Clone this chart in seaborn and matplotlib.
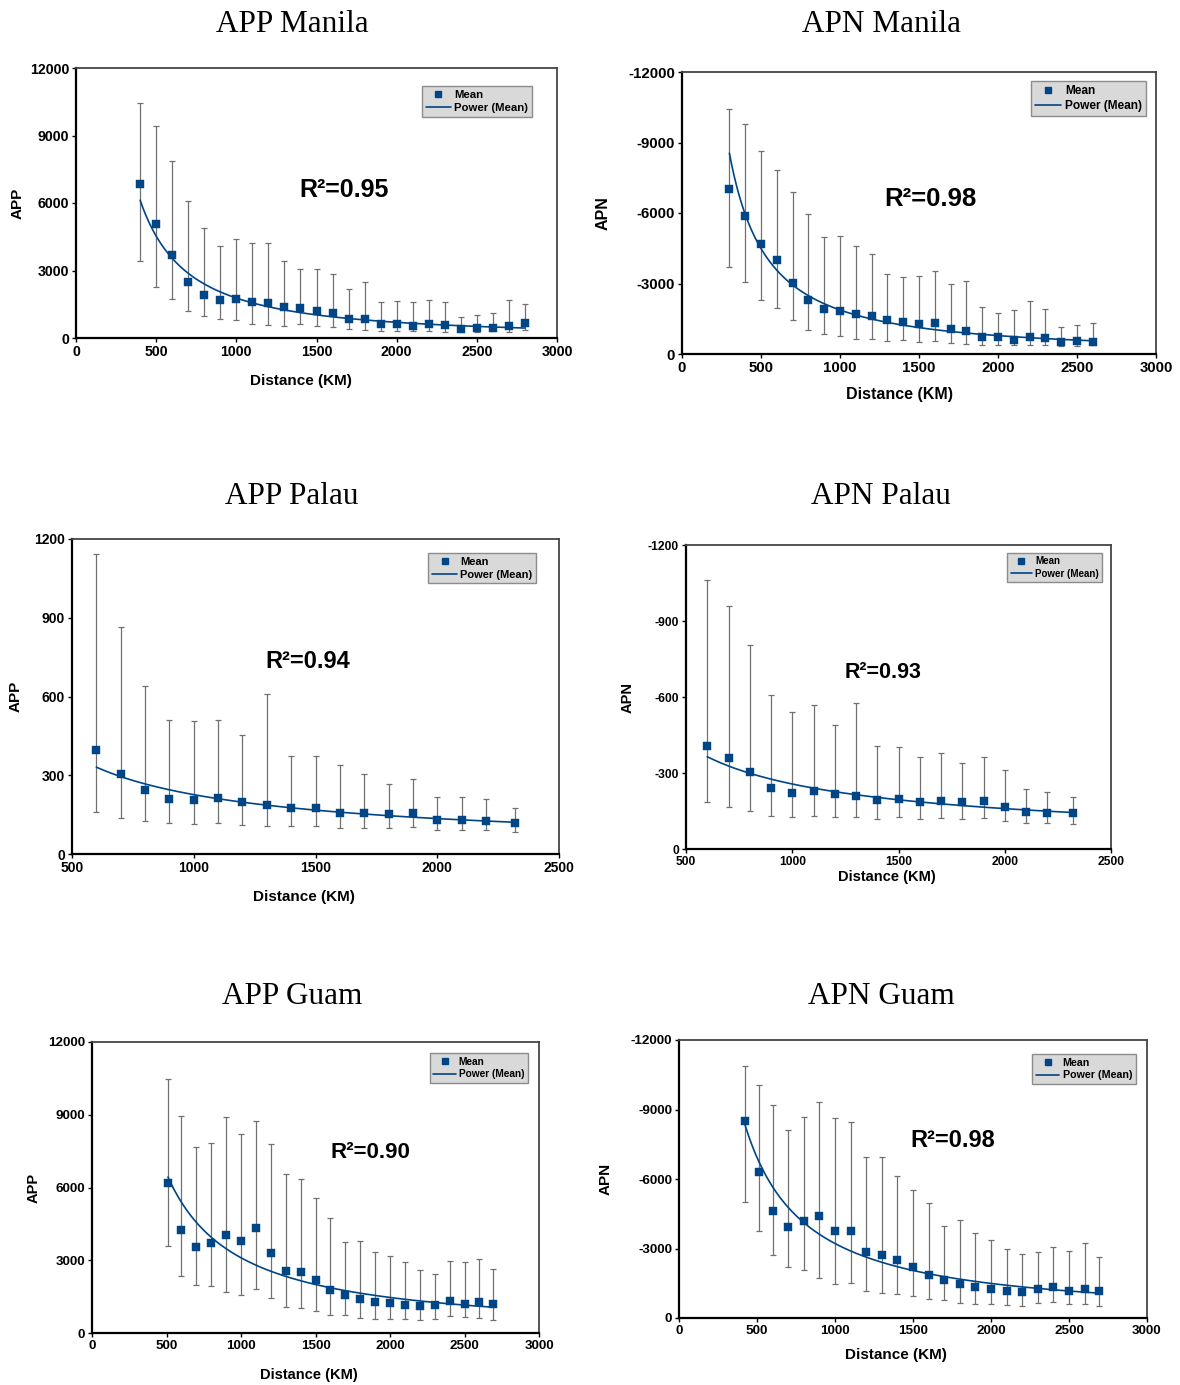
import numpy as np
import pandas as pd
import matplotlib
matplotlib.use("Agg")
import matplotlib.pyplot as plt
import seaborn as sns
from matplotlib.lines import Line2D

sns.set_theme(style="white")
plt.rcParams['font.family'] = ['Liberation Sans', 'DejaVu Sans']
plt.rcParams['text.color'] = 'black'
plt.rcParams['axes.labelcolor'] = 'black'
plt.rcParams['xtick.color'] = 'black'
plt.rcParams['ytick.color'] = 'black'

# ---------------- data ----------------
# APP Manila
app_manila_x = [400, 500, 600, 700, 800, 900, 1000, 1100, 1200, 1300, 1400, 1500, 1600,
                1700, 1800, 1900, 2000, 2100, 2200, 2300, 2400, 2500, 2600, 2700, 2800]
app_manila_mean = [6850, 5050, 3670, 2470, 1900, 1700, 1730, 1590, 1560, 1390, 1320, 1215, 1110,
                   845, 845, 610, 620, 535, 605, 565, 415, 460, 460, 535, 680]
app_manila_hi = [10440, 9420, 7880, 6100, 4900, 4070, 4400, 4220, 4210, 3440, 3070, 3070, 2845,
                 2190, 2470, 1615, 1645, 1585, 1705, 1615, 935, 1005, 1125, 1705, 1495]
app_manila_lo = [3440, 2270, 1750, 1185, 965, 845, 800, 620, 595, 550, 620, 520, 505,
                 400, 370, 325, 325, 325, 325, 280, 250, 280, 325, 250, 370]

# APN Manila
apn_manila_x = [300, 400, 500, 600, 700, 800, 900, 1000, 1100, 1200, 1300, 1400, 1500, 1600,
                1700, 1800, 1900, 2000, 2100, 2200, 2300, 2400, 2500, 2600]
apn_manila_mean = [-7030, -5890, -4670, -3980, -3040, -2315, -1920, -1830, -1705, -1635, -1465, -1380,
                   -1290, -1305, -1050, -980, -740, -725, -610, -725, -680, -510, -555, -510]
apn_manila_hi = [-10420, -9780, -8630, -7850, -6900, -5940, -4985, -5015, -4590, -4275, -3420, -3295,
                 -3340, -3520, -2980, -3125, -2015, -1745, -1890, -2270, -1930, -1135, -1250, -1320]
apn_manila_lo = [-3705, -3065, -2300, -1975, -1435, -1035, -850, -765, -640, -640, -570, -595,
                 -525, -540, -470, -410, -385, -400, -370, -370, -370, -340, -340, -370]

# APP Palau
app_palau_x = [600, 700, 800, 900, 1000, 1100, 1200, 1300, 1400, 1500, 1600, 1700, 1800,
               1900, 2000, 2100, 2200, 2320]
app_palau_mean = [397, 303, 244, 209, 204, 212, 198, 188, 175, 174, 156, 157, 151, 155, 128, 131, 127, 118]
app_palau_hi = [1142, 863, 639, 509, 507, 509, 452, 609, 373, 373, 339, 304, 268, 287, 216, 218, 208, 175]
app_palau_lo = [159, 137, 126, 117, 114, 117, 112, 108, 105, 105, 100, 100, 98, 104, 93, 93, 93, 82]

# APN Palau
apn_palau_x = [600, 700, 800, 900, 1000, 1100, 1200, 1300, 1400, 1500, 1600, 1700, 1800,
               1900, 2000, 2100, 2200, 2320]
apn_palau_mean = [-407, -361, -303, -240, -223, -230, -218, -209, -194, -197, -184, -191, -184,
                  -188, -164, -147, -143, -144]
apn_palau_hi = [-1062, -960, -804, -607, -542, -569, -488, -576, -405, -403, -363, -380, -341,
                -362, -312, -235, -226, -206]
apn_palau_lo = [-184, -164, -150, -130, -127, -130, -127, -125, -118, -125, -119, -123, -117,
                -122, -109, -104, -102, -97]

# APP Guam
app_guam_x = [510, 600, 700, 800, 900, 1000, 1100, 1200, 1300, 1400, 1500, 1600, 1700, 1800,
              1900, 2000, 2100, 2200, 2300, 2400, 2500, 2600, 2690]
app_guam_mean = [6190, 4230, 3550, 3725, 4030, 3810, 4315, 3290, 2575, 2520, 2190, 1765, 1550,
                 1385, 1290, 1235, 1165, 1095, 1135, 1300, 1190, 1260, 1205]
app_guam_hi = [10480, 8930, 7670, 7835, 8890, 8195, 8755, 7780, 6560, 6355, 5550, 4755, 3765,
               3795, 3355, 3190, 2945, 2615, 2440, 2960, 2945, 3055, 2645]
app_guam_lo = [3590, 2345, 1985, 1920, 1685, 1575, 1820, 1450, 1055, 1015, 905, 755, 725,
               615, 590, 590, 560, 520, 590, 685, 645, 615, 520]

# APN Guam
apn_guam_x = [420, 515, 600, 700, 800, 900, 1000, 1100, 1200, 1300, 1400, 1500, 1600, 1700,
              1800, 1900, 2000, 2100, 2200, 2300, 2400, 2500, 2600, 2690]
apn_guam_mean = [-8500, -6295, -4640, -3935, -4190, -4395, -3775, -3775, -2865, -2735, -2490, -2220,
                 -1845, -1640, -1470, -1355, -1255, -1180, -1140, -1270, -1340, -1180, -1255, -1180]
apn_guam_hi = [-10890, -10040, -9205, -8095, -8670, -9320, -8645, -8455, -6945, -6945, -6135, -5515,
               -4970, -3990, -4250, -3675, -3370, -2980, -2765, -2850, -3085, -2880, -3240, -2620]
apn_guam_lo = [-5015, -3775, -2710, -2205, -2090, -1730, -1485, -1525, -1165, -1080, -1025, -935,
               -805, -765, -650, -605, -605, -560, -535, -650, -675, -590, -590, -535]

titles = ["APP Manila", "APN Manila", "APP Palau", "APN Palau", "APP Guam", "APN Guam"]
ylabels = ["APP", "APN", "APP", "APN", "APP", "APN"]
r2_labels = ["R\u00b2=0.95", "R\u00b2=0.98", "R\u00b2=0.94", "R\u00b2=0.93", "R\u00b2=0.90", "R\u00b2=0.98"]
x_ticks_wide = [0, 500, 1000, 1500, 2000, 2500, 3000]
x_ticks_narrow = [500, 1000, 1500, 2000, 2500]
y_ticks_big = [0, 3000, 6000, 9000, 12000]
y_ticks_big_neg = [0, -3000, -6000, -9000, -12000]
y_ticks_small = [0, 300, 600, 900, 1200]
y_ticks_small_neg = [0, -300, -600, -900, -1200]

# ---------------- layout ----------------
W, H = 1180, 1385
fig = plt.figure(figsize=(W / 100, H / 100), dpi=100)
BLUE = '#004586'
ERR = '#707070'

panels = [
    dict(x=app_manila_x, m=app_manila_mean, hi=app_manila_hi, lo=app_manila_lo,
         box=(76, 68, 557, 338), xt=x_ticks_wide, yt=y_ticks_big, ylim=(0, 12000),
         leg=(0.948, 0.933), r2=(0.557, 0.548), r2fs=18, tfs=10.2, lfs=11, legfs=8.2,
         title=(292, 25), ylab_x=18, xlab=(301, 381)),
    dict(x=apn_manila_x, m=apn_manila_mean, hi=apn_manila_hi, lo=apn_manila_lo,
         box=(682, 72, 1156, 354), xt=x_ticks_wide, yt=y_ticks_big_neg, ylim=(0, -12000),
         leg=(0.979, 0.968), r2=(0.523, 0.550), r2fs=18.5, tfs=10.8, lfs=11.5, legfs=8.6,
         title=(881, 25), ylab_x=603, xlab=(900, 394)),
    dict(x=app_palau_x, m=app_palau_mean, hi=app_palau_hi, lo=app_palau_lo,
         box=(72, 539, 559, 854), xt=x_ticks_narrow, yt=y_ticks_small, ylim=(0, 1200),
         leg=(0.953, 0.956), r2=(0.485, 0.610), r2fs=17, tfs=10, lfs=11, legfs=8,
         title=(292, 496), ylab_x=16, xlab=(304, 897)),
    dict(x=apn_palau_x, m=apn_palau_mean, hi=apn_palau_hi, lo=apn_palau_lo,
         box=(686, 545, 1111, 849), xt=x_ticks_narrow, yt=y_ticks_small_neg, ylim=(0, -1200),
         leg=(0.979, 0.974), r2=(0.464, 0.582), r2fs=15.5, tfs=8.7, lfs=10.5, legfs=7,
         title=(881, 496), ylab_x=628, xlab=(887, 877)),
    dict(x=app_guam_x, m=app_guam_mean, hi=app_guam_hi, lo=app_guam_lo,
         box=(92, 1042, 539, 1333), xt=x_ticks_wide, yt=y_ticks_big, ylim=(0, 12000),
         leg=(0.975, 0.962), r2=(0.622, 0.619), r2fs=16, tfs=9.6, lfs=10.5, legfs=7.3,
         title=(292, 997), ylab_x=34, xlab=(309, 1375)),
    dict(x=apn_guam_x, m=apn_guam_mean, hi=apn_guam_hi, lo=apn_guam_lo,
         box=(679, 1040, 1147, 1318), xt=x_ticks_wide, yt=y_ticks_big_neg, ylim=(0, -12000),
         leg=(0.976, 0.950), r2=(0.585, 0.637), r2fs=17, tfs=9.7, lfs=11, legfs=7.7,
         title=(881, 997), ylab_x=606, xlab=(896, 1355)),
]

for i, p in enumerate(panels):
    l, t, r, b = p['box']
    ax = fig.add_axes([l / W, 1 - b / H, (r - l) / W, (b - t) / H])
    x = np.array(p['x'], dtype=float)
    m = np.array(p['m'], dtype=float)
    hi = np.array(p['hi'], dtype=float)
    lo = np.array(p['lo'], dtype=float)
    low = np.minimum(lo, hi)
    upp = np.maximum(lo, hi)
    sign = -1.0 if m[0] < 0 else 1.0

    # error bars
    ax.errorbar(x, m, yerr=[m - low, upp - m], fmt='none', ecolor=ERR, elinewidth=0.9,
                capsize=2.3, capthick=0.9, zorder=2)

    # power trend line fitted to the means
    b_, a_ = np.polyfit(np.log(x), np.log(np.abs(m)), 1)
    xf = np.linspace(x.min(), x.max(), 300)
    fit = pd.DataFrame({'x': xf, 'y': sign * np.exp(a_) * xf ** b_})
    sns.lineplot(data=fit, x='x', y='y', ax=ax, color=BLUE, linewidth=1.2, zorder=3,
                 legend=False)

    # means
    df = pd.DataFrame({'x': x, 'y': m})
    sns.scatterplot(data=df, x='x', y='y', ax=ax, marker='s', s=40, color=BLUE,
                    edgecolor=BLUE, linewidth=0.3, zorder=4, legend=False)

    ax.set_xlim(p['xt'][0], p['xt'][-1])
    ax.set_ylim(*p['ylim'])
    ax.set_xticks(p['xt'])
    ax.set_yticks(p['yt'])
    ax.set_xticklabels([str(v) for v in p['xt']], fontsize=p['tfs'], fontweight='bold')
    ax.set_yticklabels([str(v) for v in p['yt']], fontsize=p['tfs'], fontweight='bold')
    ax.tick_params(axis='both', which='both', direction='out', length=3, width=1,
                   color='black', labelcolor='black', pad=2, bottom=True, left=True)
    ax.set_xlabel('')
    ax.set_ylabel('')
    for s in ['left', 'bottom']:
        ax.spines[s].set_color('black')
        ax.spines[s].set_linewidth(1.6)
    for s in ['top', 'right']:
        ax.spines[s].set_color('#444444')
        ax.spines[s].set_linewidth(1.3)
    ax.set_facecolor('white')

    # labels
    fig.text(p['xlab'][0] / W, 1 - p['xlab'][1] / H, 'Distance (KM)', ha='center', va='center',
             fontsize=p['lfs'], fontweight='bold', color='black')
    fig.text(p['ylab_x'] / W, 1 - ((t + b) / 2) / H, ylabels[i], ha='center', va='center',
             rotation=90, fontsize=p['lfs'], fontweight='bold', color='black')
    fig.text(p['title'][0] / W, 1 - p['title'][1] / H, titles[i], ha='center', va='center',
             fontsize=22.5, family=['Liberation Serif', 'DejaVu Serif'], color='black')
    ax.text(p['r2'][0], p['r2'][1], r2_labels[i], transform=ax.transAxes, ha='center',
            va='center', fontsize=p['r2fs'], fontweight='bold', color='black')

    handles = [Line2D([], [], marker='s', linestyle='none', color=BLUE, markersize=5),
               Line2D([], [], color=BLUE, linewidth=1.2)]
    leg = ax.legend(handles, ['Mean', 'Power (Mean)'], loc='upper right',
                    bbox_to_anchor=p['leg'], borderaxespad=0, frameon=True, fancybox=False,
                    prop={'size': p['legfs'], 'weight': 'bold'}, handlelength=2.2,
                    handletextpad=0.3, borderpad=0.35, labelspacing=0.25)
    for txt in leg.get_texts():
        txt.set_color('black')
    fr = leg.get_frame()
    fr.set_facecolor('#d9d9d9')
    fr.set_edgecolor('#8c8c8c')
    fr.set_linewidth(1.0)
    fr.set_alpha(1)

fig.savefig('out.png', dpi=100, facecolor='white')
